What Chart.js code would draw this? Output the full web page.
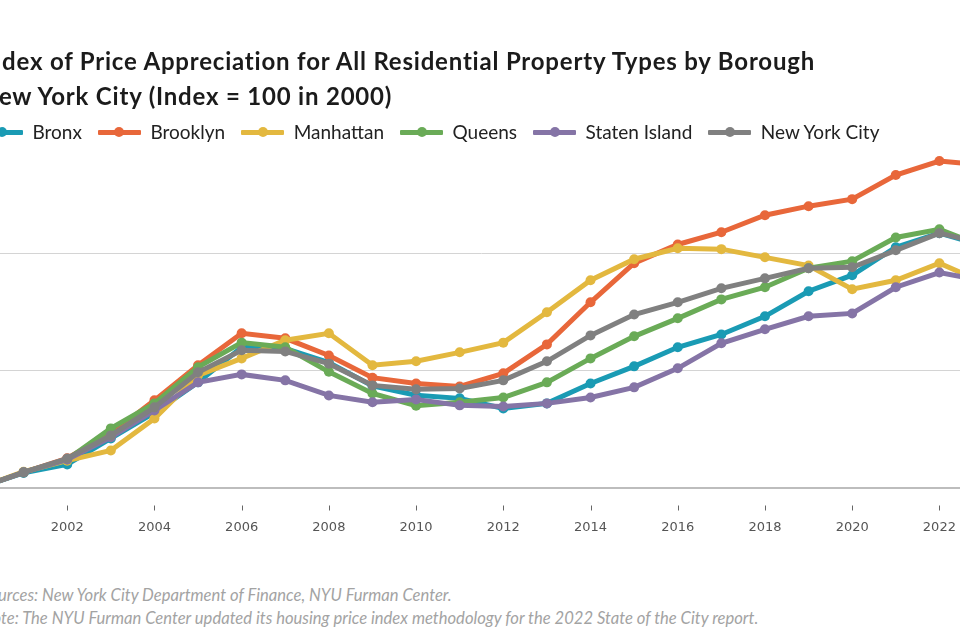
<!DOCTYPE html>
<html><head><meta charset="utf-8">
<script src="https://cdn.jsdelivr.net/npm/chart.js@4.4.0/dist/chart.umd.min.js"></script>
<style>
html,body{margin:0;padding:0;width:960px;height:640px;overflow:hidden;background:#fff;position:relative;}
#title{position:absolute;left:-20px;top:43px;font:700 24px/35px Lato;letter-spacing:0.8px;color:#1b1b1b;white-space:nowrap;margin:0}
#legend{position:absolute;left:-20px;top:120px;height:24px;display:flex;align-items:center;font:400 19px/24px Lato;color:#222;white-space:nowrap}
.item{display:flex;align-items:center;margin-right:16px}
.mk{position:relative;width:43px;height:5px;margin-right:9.5px;border-radius:1px}
.mk::after{content:'';position:absolute;left:16.5px;top:-2.5px;width:10px;height:10px;border-radius:50%;background:inherit}
#chartbox{position:absolute;left:-100px;top:0;width:1120px;height:560px}
#note{position:absolute;left:-19px;top:584px;font:italic 400 16.6px/23px Lato;color:#a3a3a3;white-space:nowrap}
</style>
</head>
<body>
<div id="chartbox"><canvas id="c" width="1120" height="560"></canvas></div>
<div id="title">Index of Price Appreciation for All Residential Property Types by Borough<br>New York City (Index = 100 in 2000)</div>
<div id="legend"></div>
<div id="note">Sources: New York City Department of Finance, NYU Furman Center.<br>Note: The NYU Furman Center updated its housing price index methodology for the 2022 State of the City report.</div>
<script>
const years = [2000,2001,2002,2003,2004,2005,2006,2007,2008,2009,2010,2011,2012,2013,2014,2015,2016,2017,2018,2019,2020,2021,2022,2023];
const seriesNames = ['Bronx','Brooklyn','Manhattan','Queens','Staten Island','New York City'];
const bronx     = [100,112.5,119.7,142,164,190,220,219,207,187,179,176.3,167.7,172,189,203.7,220,231,246.5,268,281.7,305.7,317.7,307];
const brooklyn  = [100,113,125,146,174.6,204.6,232,227.7,213,194,189,186.5,197.7,222.5,258.5,292,308,318.5,333,340.8,346.8,367.4,379.4,376];
const manhattan = [100,113.5,123,131.7,159,196,210.5,226,232,204.6,208,215.7,224,250,277.4,295.4,304.8,304,297,290,269.7,277.4,292,275.7];
const queens    = [100,113,124,150.6,172,203,224,220,199,180.5,170,173,177,190,210.5,229.4,244.8,261,271.4,287.7,293.7,314,321,306.5];
const staten    = [100,113,124,143,166,190,196.8,191.7,178.8,173,175.4,170.3,169.4,172,177,185.7,202,223.4,235.4,246.5,249,271.4,284,277];
const nyc       = [100,112.9,124.8,144.6,168.6,198.6,217.4,216.5,206,187.4,184,184.8,191.7,208,230.2,248,258.5,270.5,279,287.7,288.5,303,317.7,308.7];
const yTicks = [100,200,300];
const xTickYears = [2000,2002,2004,2006,2008,2010,2012,2014,2016,2018,2020,2022];

const colors = ['#1a9bb4','#e8673a','#e3b83f','#6aab57','#8574a6','#808080'];
const values = [bronx,brooklyn,manhattan,queens,staten,nyc];

const datasets = seriesNames.map((name,i)=>({
  label:name,
  data: years.map((y,j)=>({x:y,y:values[i][j]})),
  borderColor:colors[i],
  backgroundColor:colors[i],
  pointBackgroundColor:colors[i],
  pointBorderWidth:0,
  pointRadius:5,
  borderWidth:5,
  tension:0,
  order: seriesNames.length-1-i,
  clip:false
}));

// HTML legend
const lg = document.getElementById('legend');
seriesNames.forEach((n,i)=>{
  const it=document.createElement('div');it.className='item';
  const mk=document.createElement('span');mk.className='mk';mk.style.background=colors[i];
  const tx=document.createElement('span');tx.textContent=n;
  it.appendChild(mk);it.appendChild(tx);lg.appendChild(it);
});

// small detached tick marks below the x axis line
const tickMarks = {
  id:'tickMarks',
  afterDraw(chart){
    const s=chart.scales.x, ctx=chart.ctx, b=chart.chartArea.bottom;
    ctx.save();ctx.strokeStyle='#666';ctx.lineWidth=1;
    xTickYears.forEach(v=>{
      const x=Math.round(s.getPixelForValue(v))+0.5;
      ctx.beginPath();ctx.moveTo(x,b+18);ctx.lineTo(x,b+23);ctx.stroke();
    });
    ctx.restore();
  }
};

new Chart(document.getElementById('c'),{
  type:'line',
  data:{datasets},
  plugins:[tickMarks],
  options:{
    responsive:false,
    animation:false,
    devicePixelRatio:1,
    layout:{padding:{top:137,right:37,bottom:22.5,left:0}},
    plugins:{legend:{display:false},tooltip:{enabled:false}},
    scales:{
      x:{
        type:'linear',min:2000,max:2023,
        afterBuildTicks:s=>{s.ticks=xTickYears.map(v=>({value:v}));},
        afterFit:s=>{s.height=50;},
        ticks:{callback:v=>String(v),font:{family:'DejaVu Sans',size:13},color:'#555',padding:9.5,maxRotation:0,autoSkip:false},
        grid:{drawOnChartArea:false,drawTicks:true,tickLength:23,tickColor:'rgba(0,0,0,0)'},
        border:{display:true,color:'#bdbdbd',width:2}
      },
      y:{
        min:100,max:400,
        afterBuildTicks:s=>{s.ticks=yTicks.map(v=>({value:v}));},
        afterFit:s=>{s.width=80;},
        ticks:{font:{family:'DejaVu Sans',size:13},color:'#555'},
        grid:{color:'#d4d4d4',lineWidth:1,drawTicks:false},
        border:{display:false}
      }
    }
  }
});
</script>
</body></html>
